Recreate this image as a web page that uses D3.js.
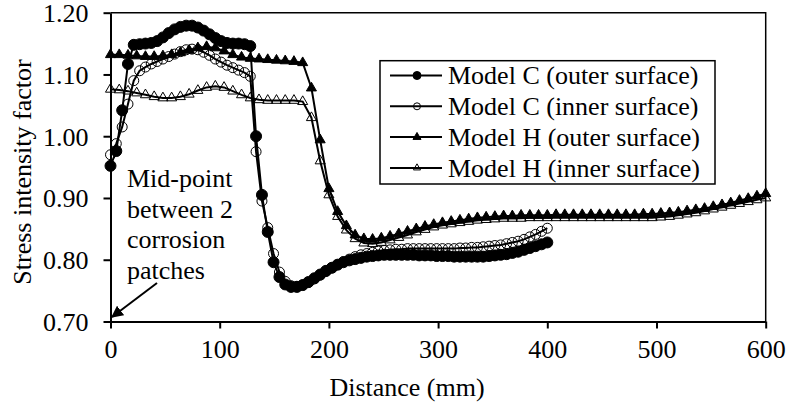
<!DOCTYPE html>
<html>
<head>
<meta charset="utf-8">
<script src="https://cdn.jsdelivr.net/npm/d3@7"></script>
<style>
    body { margin: 0; background: #fff; }
    svg, svg text { font-family: "Liberation Serif", "Times New Roman", serif; }
</style>
</head>
<body>
<svg id="chart"></svg>
<script>
// distances (mm) for each model
const distanceC = [0, 5.3, 10.7, 16, 21.3, 26.7, 32, 37.3, 42.7, 48, 53.3, 58.7, 64, 69.3, 74.7, 80, 85.3, 90.7, 96, 101.3,
    106.7, 112, 117.3, 122.7, 128, 133.3, 138.7, 144, 149.3, 154.7, 160, 165.3, 170.7, 176, 181.3, 186.7, 192, 197.3, 202.7, 208,
    213.3, 218.7, 224, 229.3, 234.7, 240, 245.3, 250.7, 256, 261.3, 266.7, 272, 277.3, 282.7, 288, 293.3, 298.7, 304, 309.3, 314.7,
    320, 325.3, 330.7, 336, 341.3, 346.7, 352, 357.3, 362.7, 368, 373.3, 378.7, 384, 389.3, 394.7, 400]

const distanceH = [0, 8, 16, 24, 32, 40, 48, 56, 64, 72, 80, 88, 96, 104, 112, 120, 128, 136, 144, 152,
    160, 168, 176, 184, 192, 200, 208, 216, 224, 232, 240, 248, 256, 264, 272, 280, 288, 296, 304, 312,
    320, 328, 336, 344, 352, 360, 368, 376, 384, 392, 400, 408, 416, 424, 432, 440, 448, 456, 464, 472,
    480, 488, 496, 504, 512, 520, 528, 536, 544, 552, 560, 568, 576, 584, 592, 600]

const modelCOuter = [0.952, 0.976, 1.042, 1.117, 1.148, 1.149, 1.150, 1.151, 1.154, 1.160, 1.167, 1.173, 1.177, 1.179, 1.179, 1.176, 1.171, 1.165, 1.159, 1.154,
    1.151, 1.150, 1.150, 1.149, 1.146, 1.000, 0.905, 0.845, 0.796, 0.772, 0.760, 0.756, 0.756, 0.759, 0.764, 0.770, 0.776, 0.782, 0.787, 0.792,
    0.796, 0.799, 0.801, 0.803, 0.805, 0.806, 0.807, 0.808, 0.808, 0.808, 0.808, 0.808, 0.808, 0.807, 0.807, 0.807, 0.806, 0.806, 0.806, 0.805,
    0.805, 0.805, 0.805, 0.805, 0.805, 0.806, 0.807, 0.808, 0.809, 0.811, 0.813, 0.816, 0.819, 0.822, 0.825, 0.828]

const modelCInner = [0.970, 0.988, 1.015, 1.052, 1.090, 1.106, 1.112, 1.117, 1.121, 1.125, 1.129, 1.133, 1.137, 1.140, 1.141, 1.140, 1.136, 1.131, 1.125, 1.120,
    1.115, 1.111, 1.107, 1.103, 1.097, 0.975, 0.895, 0.852, 0.810, 0.780, 0.765, 0.758, 0.757, 0.759, 0.763, 0.769, 0.775, 0.781, 0.787, 0.792,
    0.797, 0.801, 0.805, 0.808, 0.810, 0.812, 0.814, 0.815, 0.816, 0.817, 0.817, 0.818, 0.818, 0.818, 0.818, 0.818, 0.818, 0.818, 0.818, 0.818,
    0.819, 0.819, 0.820, 0.820, 0.821, 0.822, 0.823, 0.824, 0.826, 0.828, 0.830, 0.833, 0.837, 0.841, 0.846, 0.851]

const modelHOuter = [1.132, 1.132, 1.131, 1.130, 1.129, 1.129, 1.130, 1.132, 1.135, 1.139, 1.143, 1.145, 1.143, 1.138, 1.132, 1.128, 1.126, 1.125, 1.124, 1.123,
    1.122, 1.121, 1.119, 1.078, 0.994, 0.915, 0.878, 0.855, 0.840, 0.834, 0.833, 0.835, 0.838, 0.842, 0.846, 0.850, 0.854, 0.857, 0.860, 0.862,
    0.864, 0.866, 0.868, 0.869, 0.870, 0.871, 0.871, 0.872, 0.872, 0.872, 0.872, 0.873, 0.873, 0.873, 0.873, 0.873, 0.873, 0.873, 0.873, 0.873,
    0.873, 0.874, 0.874, 0.875, 0.876, 0.877, 0.879, 0.881, 0.883, 0.886, 0.889, 0.892, 0.896, 0.899, 0.903, 0.907]

const modelHInner = [1.076, 1.075, 1.073, 1.070, 1.067, 1.064, 1.062, 1.062, 1.064, 1.068, 1.074, 1.079, 1.081, 1.079, 1.073, 1.067, 1.062, 1.059, 1.058, 1.058,
    1.058, 1.058, 1.056, 1.030, 0.960, 0.905, 0.870, 0.848, 0.834, 0.827, 0.826, 0.828, 0.832, 0.836, 0.840, 0.845, 0.849, 0.853, 0.856, 0.858,
    0.860, 0.862, 0.864, 0.865, 0.866, 0.867, 0.867, 0.867, 0.868, 0.868, 0.868, 0.868, 0.868, 0.868, 0.868, 0.868, 0.868, 0.868, 0.868, 0.868,
    0.868, 0.868, 0.868, 0.869, 0.870, 0.872, 0.874, 0.876, 0.879, 0.882, 0.885, 0.888, 0.891, 0.894, 0.897, 0.900]

const seriesNames = ["Model C (outer surface)", "Model C (inner surface)", "Model H (outer surface)", "Model H (inner surface)"]
const xTicks = [0, 100, 200, 300, 400, 500, 600]
const yTicks = [0.70, 0.80, 0.90, 1.00, 1.10, 1.20]
const noteLines = ["Mid-point", "between 2", "corrosion", "patches"]

let series = [
    { name: seriesNames[0], x: distanceC, y: modelCOuter, shape: "circle", filled: true },
    { name: seriesNames[1], x: distanceC, y: modelCInner, shape: "circle", filled: false },
    { name: seriesNames[2], x: distanceH, y: modelHOuter, shape: "triangle", filled: true },
    { name: seriesNames[3], x: distanceH, y: modelHInner, shape: "triangle", filled: false }
]

let width = 787
let height = 404
let margin = { top: 12.7, right: 21.3, bottom: 82.5, left: 110.5 }
let bodyWidth = width - margin.left - margin.right
let bodyHeight = height - margin.top - margin.bottom

let svg = d3.select("#chart")
    .attr("width", width)
    .attr("height", height)

let xScale = d3.scaleLinear().domain([0, 600]).range([0, bodyWidth])
let yScale = d3.scaleLinear().domain([0.7, 1.2]).range([bodyHeight, 0])

let body = svg.append("g")
    .attr("transform", `translate(${margin.left},${margin.top})`)

// frame top / right
body.append("path")
    .attr("d", `M0,0H${bodyWidth}V${bodyHeight}`)
    .attr("fill", "none")
    .attr("stroke", "#000")
    .attr("stroke-width", 1.5)

let xAxis = body.append("g")
    .attr("transform", `translate(0,${bodyHeight})`)
    .call(d3.axisBottom(xScale).tickValues(xTicks).tickSize(7).tickPadding(11).tickSizeOuter(0))

let yAxis = body.append("g")
    .call(d3.axisLeft(yScale).tickValues(yTicks).tickFormat(d3.format(".2f")).tickSize(7).tickPadding(15).tickSizeOuter(0))

;[xAxis, yAxis].forEach(ax =>
{
    ax.attr("font-family", null)
    ax.select(".domain").attr("stroke-width", 2)
    ax.selectAll(".tick line").attr("stroke-width", 2)
    ax.selectAll("text")
        .attr("font-size", 26)
        .attr("fill", "#000")
})
yAxis.selectAll("text").attr("dy", "0.34em")

svg.append("text")
    .attr("transform", "translate(31,172) rotate(-90)")
    .attr("text-anchor", "middle")
    .attr("font-size", 26)
    .text("Stress intensity factor")

svg.append("text")
    .attr("x", 407)
    .attr("y", 396)
    .attr("text-anchor", "middle")
    .attr("font-size", 26)
    .text("Distance (mm)")

let triangle = d3.symbol().type(d3.symbolTriangle)

function drawMarker(sel, s, size)
{
    if (s.shape === "circle")
    {
        sel.append("circle")
            .attr("r", size)
            .attr("fill", s.filled ? "#000" : "none")
            .attr("stroke", "#000")
            .attr("stroke-width", 1)
    }
    else
    {
        sel.append("path")
            .attr("d", triangle.size(size * size * 1.75)())
            .attr("fill", s.filled ? "#000" : "none")
            .attr("stroke", "#000")
            .attr("stroke-width", 1)
    }
}

let line = d3.line()
    .x(d => xScale(d[0]))
    .y(d => yScale(d[1]))

series.forEach(s =>
{
    let points = s.x.map((x, i) => [x, s.y[i]])
    let g = body.append("g")

    g.append("path")
        .datum(points)
        .attr("d", line)
        .attr("fill", "none")
        .attr("stroke", "#000")
        .attr("stroke-width", 2)

    g.selectAll(".marker")
        .data(points)
        .enter()
        .append("g")
        .attr("class", "marker")
        .attr("transform", d => `translate(${xScale(d[0])},${yScale(d[1])})`)
        .each(function() { drawMarker(d3.select(this), s, s.shape === "circle" && s.filled ? 5.5 : 5) })
})

// legend
let legend = svg.append("g")
legend.append("rect")
    .attr("x", 380)
    .attr("y", 60.7)
    .attr("width", 335)
    .attr("height", 123.3)
    .attr("fill", "#fff")
    .attr("stroke", "#000")
    .attr("stroke-width", 1.5)

series.forEach((s, i) =>
{
    let cy = 75.5 + i * 30.8
    let row = legend.append("g")
    row.append("line")
        .attr("x1", 390).attr("x2", 442)
        .attr("y1", cy).attr("y2", cy)
        .attr("stroke", "#000")
        .attr("stroke-width", 2)
    let m = row.append("g").attr("transform", `translate(417,${cy})`)
    drawMarker(m, s, s.filled ? 4 : 3.5)
    row.append("text")
        .attr("x", 448)
        .attr("y", cy)
        .attr("dy", "0.34em")
        .attr("font-size", 26)
        .text(s.name)
})

// note and arrow
let note = svg.append("text")
    .attr("font-size", 26)
noteLines.forEach((t, i) =>
{
    note.append("tspan")
        .attr("x", 127)
        .attr("y", 187 + i * 30.5)
        .text(t)
})

svg.append("defs").append("marker")
    .attr("id", "arrow")
    .attr("viewBox", "0 0 10 10")
    .attr("refX", 9)
    .attr("refY", 5)
    .attr("markerWidth", 6)
    .attr("markerHeight", 6)
    .attr("markerUnits", "strokeWidth")
    .attr("orient", "auto")
    .append("path")
    .attr("d", "M0,0L10,5L0,10z")
    .attr("fill", "#000")

svg.append("line")
    .attr("x1", 157).attr("y1", 283)
    .attr("x2", 112).attr("y2", 317)
    .attr("stroke", "#000")
    .attr("stroke-width", 2)
    .attr("marker-end", "url(#arrow)")
</script>
</body>
</html>
